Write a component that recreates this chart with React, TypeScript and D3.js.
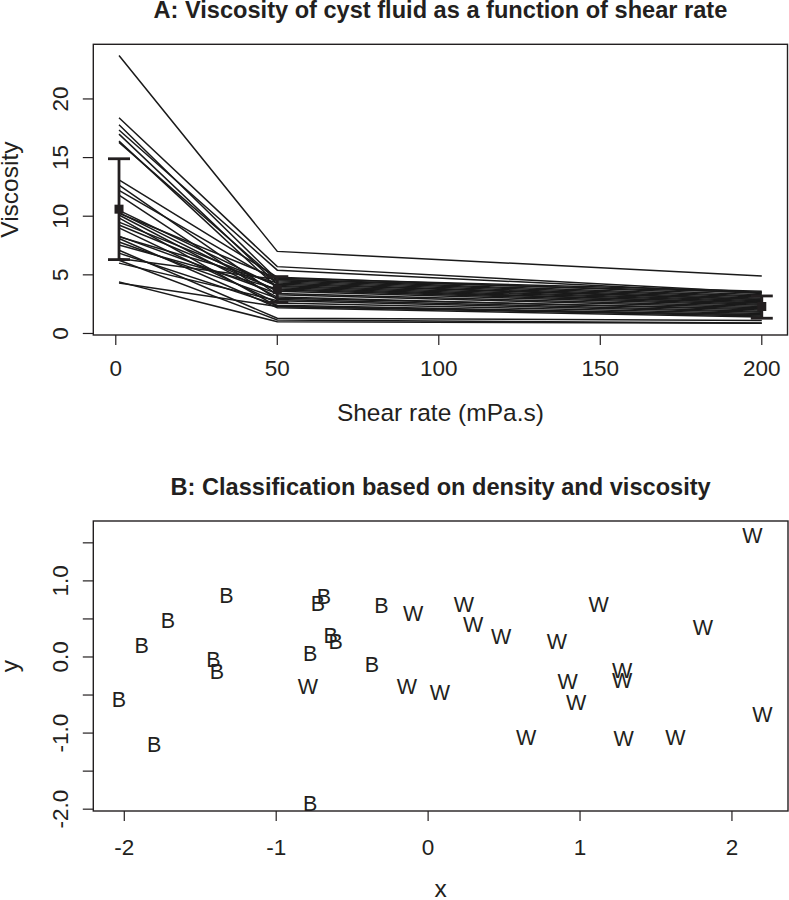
import React, { useEffect, useRef } from 'react';
import * as d3 from 'd3';

// Panel A: viscosity per cyst at three shear rates
const shearRates = [1, 50, 200];
const viscosityAt1 = [
    23.7, 18.4, 17.8, 17.35, 17.0, 16.4, 16.3, 13.1, 12.65, 12.2, 11.8, 10.5,
    10.3, 10.25, 10.1, 9.85, 9.5, 9.25, 9.0, 8.3, 8.25, 8.1, 7.8, 7.55, 7.1,
    6.85, 6.4, 6.25, 6.0, 4.4, 4.3,
];
const viscosityAt50 = [
    7.0, 5.7, 4.6, 5.4, 4.2, 3.9, 4.5, 4.8, 3.3, 4.4, 2.9, 4.0, 3.6, 4.7, 3.1,
    2.3, 4.1, 3.7, 2.6, 3.4, 4.3, 2.2, 3.0, 3.8, 1.3, 2.4, 4.6, 1.15, 2.8, 1.0,
    2.3,
];
const viscosityAt200 = [
    4.9, 3.5, 3.2, 3.4, 2.9, 2.6, 3.1, 3.3, 2.2, 3.0, 1.9, 2.7, 2.4, 3.6, 2.0,
    1.5, 2.8, 2.5, 1.7, 2.3, 2.9, 1.4, 2.1, 2.6, 1.1, 1.6, 3.5, 0.9, 1.8, 0.87,
    1.6,
];
const meanViscosity = [10.6, 3.75, 2.3];
const lowerViscosity = [6.3, 2.65, 1.3];
const upperViscosity = [14.9, 4.85, 3.2];
const shearTicks = [0, 50, 100, 150, 200];
const viscosityTicks = [0, 5, 10, 15, 20];

// Panel B: classification scatter
const benignX = [
    -1.327, -1.712, -1.885, -1.413, -1.39, -2.035, -1.804, -0.726, -0.686,
    -0.642, -0.609, -0.776, -0.308, -0.37, -0.776,
];
const benignY = [
    0.815, 0.477, 0.149, -0.03, -0.193, -0.552, -1.147, 0.705, 0.8, 0.289,
    0.21, 0.048, 0.674, -0.092, -1.923,
];
const wX = [
    -0.792, -0.099, -0.139, 0.077, 0.236, 0.297, 0.48, 0.847, 1.122, 2.135,
    1.809, 1.277, 1.277, 0.918, 0.975, 2.2, 0.645, 1.287, 1.628,
];
const wY = [
    -0.39, 0.574, -0.39, -0.464, 0.692, 0.43, 0.276, 0.21, 0.692, 1.603, 0.385,
    -0.171, -0.302, -0.324, -0.595, -0.749, -1.055, -1.068, -1.055,
];
const xTicksB = [-2, -1, 0, 1, 2];
const yTicksB = [-2, -1.5, -1, -0.5, 0, 0.5, 1, 1.5];
const yLabelsB = [-2, -1, 0, 1];

const ink = '#231f20';
const font = '"Liberation Sans", Arial, Helvetica, sans-serif';

const App: React.FC = () => {
    const svgRef = useRef<SVGSVGElement>(null);

    useEffect(() => {
        if (!svgRef.current) return;
        const svg = d3.select(svgRef.current);
        svg.selectAll('*').remove();

        const frame = (
            x: d3.ScaleLinear<number, number>,
            y: d3.ScaleLinear<number, number>,
            xTicks: number[],
            yTicks: number[],
            yLabels: number[],
            fmtY: (v: number) => string,
            xLabelGap: number,
            title: string,
            xTitle: string,
            yTitle: string,
        ) => {
            const [l, r] = x.range();
            const [b, t] = y.range();
            const g = svg.append('g');
            g.append('rect')
                .attr('x', l)
                .attr('y', t)
                .attr('width', r - l)
                .attr('height', b - t)
                .attr('fill', 'none')
                .attr('stroke', ink)
                .attr('stroke-width', 1.4);

            // x axis
            g.selectAll('.xt')
                .data(xTicks)
                .join('line')
                .attr('x1', (d) => x(d))
                .attr('x2', (d) => x(d))
                .attr('y1', b)
                .attr('y2', b + 10)
                .attr('stroke', ink)
                .attr('stroke-width', 1.2);
            g.selectAll('.xl')
                .data(xTicks)
                .join('text')
                .attr('x', (d) => x(d))
                .attr('y', b + xLabelGap)
                .attr('text-anchor', 'middle')
                .attr('font-size', 22.5)
                .attr('fill', ink)
                .text((d) => String(d));

            // y axis
            g.selectAll('.yt')
                .data(yTicks)
                .join('line')
                .attr('x1', l)
                .attr('x2', l - 10.5)
                .attr('y1', (d) => y(d))
                .attr('y2', (d) => y(d))
                .attr('stroke', ink)
                .attr('stroke-width', 1.2);
            g.selectAll('.yl')
                .data(yLabels)
                .join('text')
                .attr('transform', (d) => `translate(68, ${y(d)}) rotate(-90)`)
                .attr('text-anchor', 'middle')
                .attr('font-size', 22.5)
                .attr('fill', ink)
                .text((d) => fmtY(d));

            // titles
            g.append('text')
                .attr('x', (l + r) / 2)
                .attr('y', t - 26.5)
                .attr('text-anchor', 'middle')
                .attr('font-size', 23.6)
                .attr('font-weight', 'bold')
                .attr('fill', ink)
                .text(title);
            g.append('text')
                .attr('x', (l + r) / 2)
                .attr('y', b + 86)
                .attr('text-anchor', 'middle')
                .attr('font-size', 24.5)
                .attr('fill', ink)
                .text(xTitle);
            g.append('text')
                .attr('transform', `translate(18, ${(t + b) / 2}) rotate(-90)`)
                .attr('text-anchor', 'middle')
                .attr('font-size', 24.5)
                .attr('fill', ink)
                .text(yTitle);
        };

        // ---- Panel A ----
        const xA = d3.scaleLinear().domain([-6.96, 207.96]).range([93.3, 787.5]);
        const yA = d3.scaleLinear().domain([-0.13, 24.66]).range([335, 44.3]);

        const series = viscosityAt1.map((v, i) => [
            v,
            viscosityAt50[i],
            viscosityAt200[i],
        ]);
        const line = d3
            .line<number>()
            .x((_, i) => xA(shearRates[i]))
            .y((d) => yA(d));

        svg.append('g')
            .selectAll('path')
            .data(series)
            .join('path')
            .attr('d', (d) => line(d))
            .attr('fill', 'none')
            .attr('stroke', '#1a1a1a')
            .attr('stroke-width', 1.5);

        const bars = svg.append('g');
        shearRates.forEach((s, i) => {
            const cx = xA(s);
            bars.append('line')
                .attr('x1', cx)
                .attr('x2', cx)
                .attr('y1', yA(lowerViscosity[i]))
                .attr('y2', yA(upperViscosity[i]))
                .attr('stroke', ink)
                .attr('stroke-width', 2.8);
            [lowerViscosity[i], upperViscosity[i]].forEach((v) => {
                bars.append('line')
                    .attr('x1', cx - 11)
                    .attr('x2', cx + 11)
                    .attr('y1', yA(v))
                    .attr('y2', yA(v))
                    .attr('stroke', ink)
                    .attr('stroke-width', 2.8);
            });
            bars.append('rect')
                .attr('x', cx - 4.5)
                .attr('y', yA(meanViscosity[i]) - 4.5)
                .attr('width', 9)
                .attr('height', 9)
                .attr('fill', ink);
        });

        frame(
            xA,
            yA,
            shearTicks,
            viscosityTicks,
            viscosityTicks,
            (v) => String(v),
            41,
            'A: Viscosity of cyst fluid as a function of shear rate',
            'Shear rate (mPa.s)',
            'Viscosity',
        );

        // ---- Panel B ----
        const xB = d3.scaleLinear().domain([-2.204, 2.369]).range([93.3, 788]);
        const yB = d3.scaleLinear().domain([-2.024, 1.787]).range([811, 521]);

        const pts = [
            ...benignX.map((v, i) => ({ x: v, y: benignY[i], k: 'B' })),
            ...wX.map((v, i) => ({ x: v, y: wY[i], k: 'W' })),
        ];
        svg.append('g')
            .selectAll('text')
            .data(pts)
            .join('text')
            .attr('x', (d) => xB(d.x))
            .attr('y', (d) => yB(d.y))
            .attr('dy', '0.36em')
            .attr('text-anchor', 'middle')
            .attr('font-size', 21.5)
            .attr('fill', ink)
            .text((d) => d.k);

        frame(
            xB,
            yB,
            xTicksB,
            yTicksB,
            yLabelsB,
            (v) => v.toFixed(1),
            44,
            'B: Classification based on density and viscosity',
            'x',
            'y',
        );
    }, []);

    return (
        <svg
            ref={svgRef}
            width={789}
            height={900}
            style={{
                position: 'absolute',
                left: 0,
                top: 0,
                display: 'block',
                fontFamily: font,
                background: '#fff',
            }}
        />
    );
};

export default App;
